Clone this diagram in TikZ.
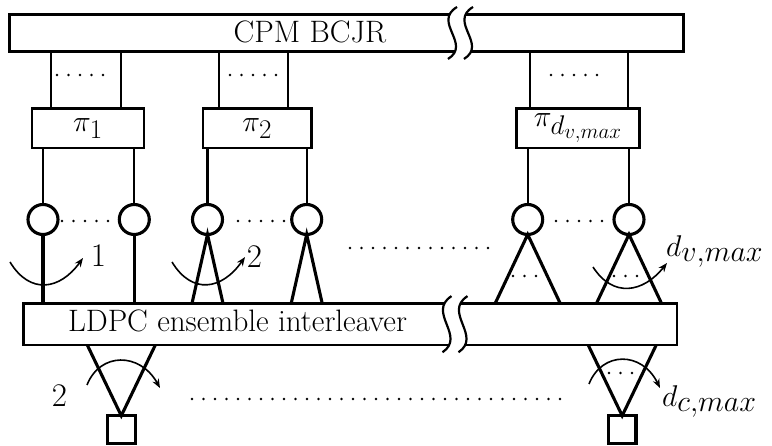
\RequirePackage{fix-cm}
\documentclass[tikz,border=0pt]{standalone}
\usetikzlibrary{arrows.meta,calc}
\DeclareMathSizes{30}{30}{27}{21}
\DeclareMathSizes{33}{30}{30}{24}
\begin{document}
\begin{tikzpicture}[x=1pt,y=-1pt,
  box/.style={draw,rectangle,line width=2.7pt,fill=white,inner sep=0pt,outer sep=0pt},
  wire/.style={line width=2.3pt},
  vnode/.style={draw,circle,line width=3.1pt,minimum size=30pt,inner sep=0pt,outer sep=0pt},
  cnode/.style={draw,rectangle,line width=3.1pt,minimum size=27.5pt,inner sep=0pt,outer sep=0pt},
  edgeline/.style={line width=3.1pt},
  turn/.style={line width=1.6pt,-{Stealth[length=9pt,width=7pt]}},
  dots/.style={line width=2.6pt,line cap=round,dash pattern=on 0pt off 11.5pt},
  txt/.style={font=\fontsize{31}{36}\selectfont,inner sep=0pt},
  pilab/.style={font=\fontsize{30}{34}\selectfont,inner sep=0pt},
  numlab/.style={font=\fontsize{33}{38}\selectfont,inner sep=0pt,anchor=base},
  dlab/.style={font=\fontsize{33}{38}\selectfont,inner sep=0pt,anchor=base west},
  brk/.pic={
    \fill[white] (4.5,-26) .. controls (-20.5,-11) and (19.5,11) .. (-4.5,26)
      -- (11.5,26) .. controls (35.5,11) and (-4.5,-11) .. (20.5,-26) -- cycle;
    \draw[line width=2.2pt] (4.5,-26) .. controls (-20.5,-11) and (19.5,11) .. (-4.5,26);
    \draw[line width=2.2pt] (20.5,-26) .. controls (-4.5,-11) and (35.5,11) .. (11.5,26);
  }]
\useasboundingbox (0,0) rectangle (772,446);

% top box
\node[box,minimum width=673.8pt,minimum height=36.6pt] (cpm) at (346.6,33) {};
\node[txt,anchor=base] (cpmtxt) at (310,42.7) {CPM BCJR};
\pic at (452.5,33) {brk};

% interleaver boxes
\node[box,minimum width=112pt,minimum height=39.3pt] (p1) at (88,128.3) {};
\node[box,minimum width=108.3pt,minimum height=39.3pt] (p2) at (257.2,128.3) {};
\node[box,minimum width=122.6pt,minimum height=39.3pt] (p3) at (578,128.3) {};
\node[pilab] (p1t) at (p1) {$\pi_1$};
\node[pilab] (p2t) at (p2) {$\pi_2$};
\node[pilab] (p3t) at (p3) {$\pi_{d_{v,max}}$};

% wires top box -> interleavers
\coordinate (a1) at (51.2,0);  \coordinate (a2) at (120.7,0);
\coordinate (a3) at (218.7,0); \coordinate (a4) at (288,0);
\coordinate (a5) at (530,0);   \coordinate (a6) at (628.2,0);
\draw[wire] (a1 |- cpm.south) -- (a1 |- p1.north);
\draw[wire] (a2 |- cpm.south) -- (a2 |- p1.north);
\draw[wire] (a3 |- cpm.south) -- (a3 |- p2.north);
\draw[wire] (a4 |- cpm.south) -- (a4 |- p2.north);
\draw[wire] (a5 |- cpm.south) -- (a5 |- p3.north);
\draw[wire] (a6 |- cpm.south) -- (a6 |- p3.north);
\draw[dots] (57,75) -- +(46.1,0);
\draw[dots] (230,75) -- +(46.1,0);
\draw[dots] (551,75) -- +(46.1,0);

% LDPC box
\node[box,minimum width=653.7pt,minimum height=41.7pt] (ldpc) at (350.2,324.2) {};
\node[txt,anchor=base] (ldpctxt) at (237.5,332) {LDPC ensemble interleaver};
\pic[yscale=1.08] at (447,324.2) {brk};

% variable nodes
\node[vnode] (c1) at (43,219.5) {};
\node[vnode] (c2) at (134.3,219.5) {};
\node[vnode] (c3) at (207.5,219.5) {};
\node[vnode] (c4) at (306.7,219.5) {};
\node[vnode] (c5) at (527.7,219.5) {};
\node[vnode] (c6) at (629,219.5) {};
\foreach \c/\p in {c1/p1,c2/p1,c3/p2,c4/p2,c5/p3,c6/p3}
  \draw[wire] (\c) -- (\c |- \p.south);
\draw[dots] (62,221) -- +(46.1,0);
\draw[dots] (238,221) -- +(46.1,0);
\draw[dots] (556,221) -- +(46.1,0);

% edges to LDPC interleaver
\draw[edgeline] (c1) -- (c1 |- ldpc.north);
\draw[edgeline] (c2) -- (c2 |- ldpc.north);
\draw[edgeline] ($(c3 |- ldpc.north)+(-15.5,0)$) -- (c3.south) -- ($(c3 |- ldpc.north)+(15.5,0)$);
\draw[edgeline] ($(c4 |- ldpc.north)+(-15.5,0)$) -- (c4.south) -- ($(c4 |- ldpc.north)+(15.5,0)$);
\draw[edgeline] ($(c5 |- ldpc.north)+(-32.5,0)$) -- (c5.south) -- ($(c5 |- ldpc.north)+(32.5,0)$);
\draw[edgeline] ($(c6 |- ldpc.north)+(-32.5,0)$) -- (c6.south) -- ($(c6 |- ldpc.north)+(32.5,0)$);
\draw[dots] (513,276) -- +(25.1,0);
\draw[dots] (614,276) -- +(25.1,0);
\draw[dots] (350,248) -- +(138.1,0);

% check nodes
\node[cnode] (k1) at (121.3,429.5) {};
\node[cnode] (k2) at (622.2,429.5) {};
\draw[edgeline] ($(k1 |- ldpc.south)+(-34,0)$) -- (k1.north) -- ($(k1 |- ldpc.south)+(34,0)$);
\draw[edgeline] ($(k2 |- ldpc.south)+(-34,0)$) -- (k2.north) -- ($(k2 |- ldpc.south)+(34,0)$);
\draw[dots] (609,373) -- +(23.1,0);
\draw[dots] (192,399) -- +(368.1,0);

% degree arrows
\draw[turn] (10,262) .. controls (30,295) and (60,290) .. (83,258);
\draw[turn] (172,262) .. controls (192,295) and (222,290) .. (245,257);
\draw[turn] (593,267) .. controls (613,298) and (643,293) .. (667,263);
\draw[turn] (87,385) .. controls (100,352) and (140,352) .. (160,388);
\draw[turn] (589,384) .. controls (602,351) and (642,351) .. (660,388);

% labels
\node[numlab] (l1) at (98.5,267) {1};
\node[numlab] (l2) at (254.5,268) {2};
\node[numlab] (l3) at (59.5,407) {2};
\node[dlab] (l4) at (666,257) {$d_{v,max}$};
\node[dlab] (l5) at (662,407) {$d_{c,max}$};
\end{tikzpicture}
\end{document}
